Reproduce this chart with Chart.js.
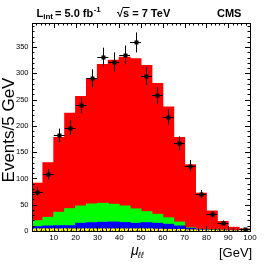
<!DOCTYPE html>
<html><head><meta charset="utf-8">
<script src="https://cdn.jsdelivr.net/npm/chart.js@4"></script>
<style>html,body{margin:0;padding:0;background:#fff}#wrap{width:266px;height:266px}</style>
</head><body><div id="wrap"><canvas id="c" width="266" height="266"></canvas></div>
<script>
// bin centres (GeV), 5 GeV bins
const binCenters = [2.5,7.5,12.5,17.5,22.5,27.5,32.5,37.5,42.5,47.5,52.5,57.5,62.5,67.5,72.5,77.5,82.5,87.5,92.5,97.5];
// stacked MC components (events per bin)
const yellowVals = [4,4,4,4,4,4,4,4,4,4,4,3.5,3,3,2,1.5,1,0.5,0.5,0.5];
const blueVals   = [4.2,5.5,6,6,10.6,11.8,12.5,13,12,10.6,11.8,11.1,9.7,6.5,3,1,0.5,0.5,0.5,0.5];
const greenVals  = [11.4,16.5,25.6,32.5,33,35.6,36.2,33.8,31.6,27.4,21,17.1,12.3,7.5,1,0.5,0.5,0.5,0,0];
const redVals    = [71.4,104,142.4,181.5,208.4,238.6,264.3,274.2,283.4,286,278.2,249.3,211,161,120,69,36,16.5,6,3];
// data points and their vertical errors
const dataVals = [75,108,182,197,239,291,331,322,335,359,295,258,217,167,124,70,32,16,null,3];
const dataErrs = [9,10,13,14,15,17,18,18,18,19,17,16,15,13,11,8,6,4,0,2];
const binHalfWidth = 2.5;
// tick labels
const xTickLabels = [10,20,30,40,50,60,70,80,90,100];
const yTickLabels = [0,50,100,150,200,250,300,350];

const FONT = '"Liberation Sans", Arial, Helvetica, sans-serif';

function hatchPattern(){
  const p = document.createElement('canvas'); p.width = 3; p.height = 3;
  const g = p.getContext('2d');
  g.fillStyle = '#ffff00'; g.fillRect(0,0,3,3);
  g.fillStyle = '#8a8a20'; g.fillRect(0,0,1,1); g.fillRect(1,2,1,1);
  return g.createPattern(p,'repeat');
}
const ctx0 = document.getElementById('c').getContext('2d');
const yellowFill = hatchPattern();

const toXY = arr => binCenters.map((x,i)=>({x:x, y:arr[i]}));

const decor = {
  id:'decor',
  afterDatasetsDraw(chart){
    const ctx = chart.ctx;
    const xs = chart.scales.x, ys = chart.scales.y;
    ctx.save();
    ctx.strokeStyle = '#000'; ctx.lineWidth = 1;
    binCenters.forEach((xc,i)=>{
      const v = dataVals[i]; if (v === null) return;
      const px = Math.round(xs.getPixelForValue(xc))+0.5;
      const py = ys.getPixelForValue(v);
      const x1 = xs.getPixelForValue(xc-binHalfWidth), x2 = xs.getPixelForValue(xc+binHalfWidth);
      const y1 = ys.getPixelForValue(v+dataErrs[i]), y2 = ys.getPixelForValue(Math.max(0,v-dataErrs[i]));
      ctx.beginPath();
      ctx.moveTo(px,y1); ctx.lineTo(px,y2);
      ctx.moveTo(x1,Math.round(py)+0.5); ctx.lineTo(x2,Math.round(py)+0.5);
      ctx.stroke();
      ctx.fillStyle = '#000';
      ctx.fillRect(px-2, Math.round(py)-1.5, 4, 4);
    });
    ctx.restore();
  },
  afterDraw(chart){
    const ctx = chart.ctx, a = chart.chartArea;
    const xs = chart.scales.x, ys = chart.scales.y;
    ctx.save();
    ctx.strokeStyle = '#000'; ctx.lineWidth = 1;
    ctx.strokeRect(Math.round(a.left)+0.5, Math.round(a.top)+0.5, Math.round(a.right-a.left), Math.round(a.bottom-a.top));
    ctx.beginPath();
    for (let v=0; v<=100; v+=2){
      const px = Math.round(xs.getPixelForValue(v))+0.5;
      const L = (v%10===0)?5:2.5;
      ctx.moveTo(px,a.bottom); ctx.lineTo(px,a.bottom-L);
      ctx.moveTo(px,a.top); ctx.lineTo(px,a.top+L);
    }
    for (let v=0; v<=390; v+=10){
      const py = Math.round(ys.getPixelForValue(v))+0.5;
      const L = (v%50===0)?5:2.5;
      ctx.moveTo(a.left,py); ctx.lineTo(a.left+L,py);
      ctx.moveTo(a.right,py); ctx.lineTo(a.right-L,py);
    }
    ctx.stroke();
    ctx.fillStyle = '#000';
    ctx.font = '8px '+FONT; ctx.textAlign='center'; ctx.textBaseline='middle';
    xTickLabels.forEach(v=>ctx.fillText(String(v), xs.getPixelForValue(v), 238));
    ctx.font = '7.5px '+FONT; ctx.textAlign='right';
    yTickLabels.forEach(v=>ctx.fillText(String(v), a.left-3.5, ys.getPixelForValue(v)));
    ctx.save();
    ctx.translate(14,130); ctx.rotate(-Math.PI/2);
    ctx.font = '17px '+FONT; ctx.textAlign='center'; ctx.textBaseline='alphabetic';
    ctx.fillText('Events/5 GeV',0,0);
    ctx.restore();
    ctx.textAlign='left'; ctx.textBaseline='alphabetic';
    ctx.font = '13px '+FONT;
    ctx.fillText('[GeV]',219,257);
    ctx.font = 'italic 14px '+FONT;
    ctx.fillText('\u03bc',131,255);
    ctx.font = 'italic 9px '+FONT;
    ctx.fillText('\u2113\u2113',138,258);
    // header, laid out piece by piece
    let x = 36.5;
    ctx.font = 'bold 11px '+FONT; ctx.fillText('L',x,16.5); x += ctx.measureText('L').width;
    ctx.font = 'bold 8px '+FONT; ctx.fillText('int',x,19); x += ctx.measureText('int').width + 2;
    ctx.font = 'bold 11px '+FONT; ctx.fillText('= 5.0 fb',x,16.5); x += ctx.measureText('= 5.0 fb').width + 0.5;
    ctx.font = 'bold 8px '+FONT; ctx.fillText('-1',x,11.5);
    ctx.font = 'bold 11px '+FONT;
    ctx.fillText('\u221a',117,16.5);
    const sw = ctx.measureText('\u221a').width;
    ctx.fillText('s = 7 TeV',117+sw,16.5);
    ctx.beginPath(); ctx.lineWidth = 1;
    ctx.moveTo(117+sw-0.5,7.5); ctx.lineTo(117+sw+ctx.measureText('s').width+0.5,7.5); ctx.stroke();
    ctx.fillText('CMS',217,16.5);
    ctx.restore();
  }
};

new Chart(ctx0, {
  type:'bar',
  data:{
    datasets:[
      {label:'yellow', data:toXY(yellowVals), backgroundColor:yellowFill, borderWidth:0, stack:'mc'},
      {label:'blue', data:toXY(blueVals), backgroundColor:'#0000ff', borderWidth:0, stack:'mc'},
      {label:'green', data:toXY(greenVals), backgroundColor:'#00ff00', borderWidth:0, stack:'mc'},
      {label:'red', data:toXY(redVals), backgroundColor:'#ff0000', borderWidth:0, stack:'mc'}
    ]
  },
  options:{
    responsive:false, animation:false, devicePixelRatio:1,
    layout:{padding:{left:32, right:16, top:23, bottom:35}},
    plugins:{legend:{display:false}, tooltip:{enabled:false}},
    datasets:{bar:{barPercentage:1, categoryPercentage:1, inflateAmount:0.5}},
    scales:{
      x:{type:'linear', min:0, max:100, stacked:true, offset:false, display:false},
      y:{type:'linear', min:0, max:396, stacked:true, display:false}
    }
  },
  plugins:[decor]
});
</script></body></html>
